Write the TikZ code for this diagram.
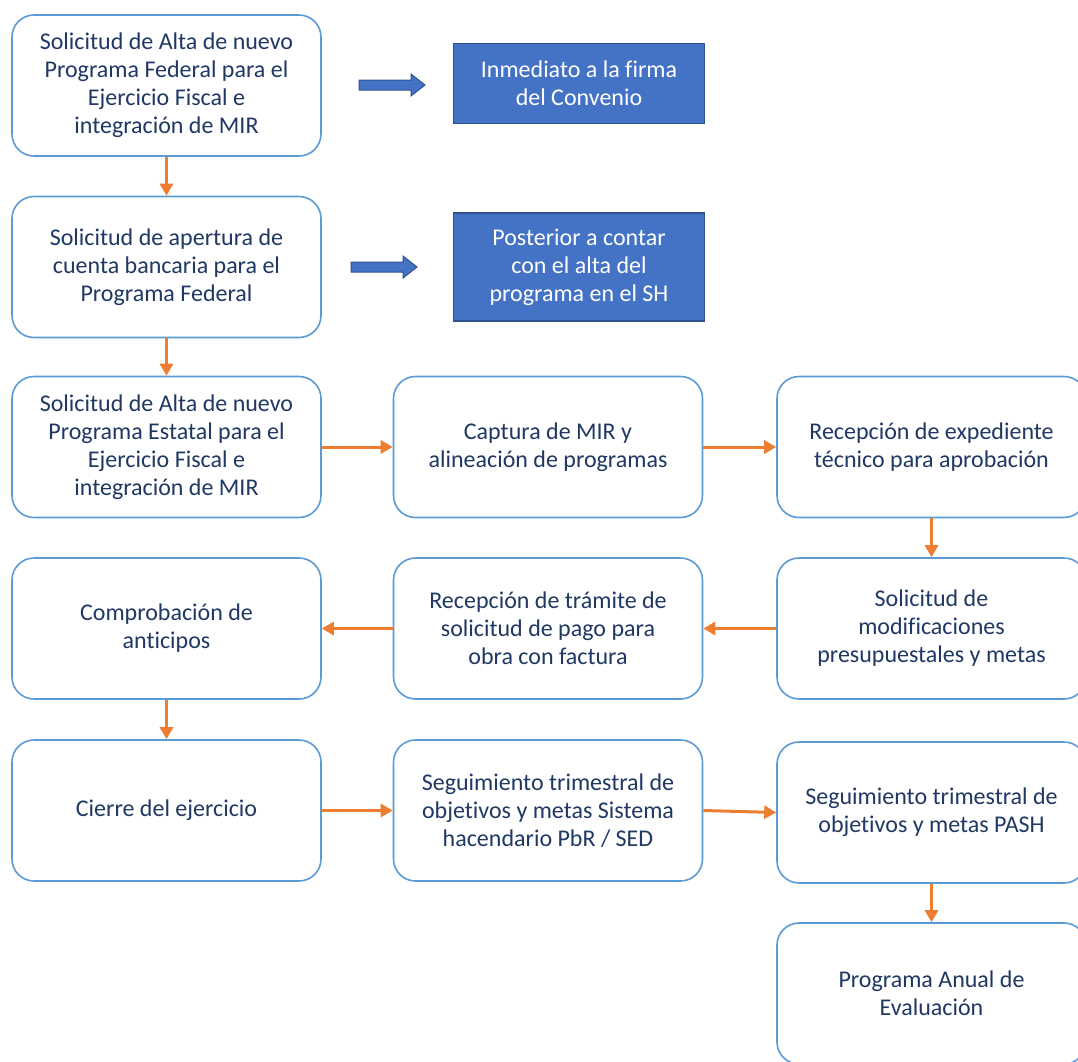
\documentclass[tikz,border=0pt]{standalone}
\usepackage{fontspec}
\setmainfont{Carlito}[RawFeature={-liga;-calt}]
\usetikzlibrary{arrows.meta}
\definecolor{boxblue}{HTML}{5B9BD5}
\definecolor{orng}{HTML}{ED7D31}
\definecolor{fillblue}{HTML}{4472C4}
\definecolor{edgeblue}{HTML}{2F528F}
\definecolor{navy}{HTML}{1F3864}
\tikzset{
  box/.style={draw=boxblue, line width=1.6pt, rounded corners=22pt, fill=white,
    minimum width=309pt, minimum height=141pt, align=center, text=navy,
    font=\fontsize{24}{28}\selectfont, inner sep=0pt},
  tagbox/.style={draw=edgeblue, line width=1.2pt, fill=fillblue, align=center, text=white,
    font=\fontsize{24}{28}\selectfont, inner sep=0pt, minimum width=251pt},
  flow/.style={draw=orng, line width=3pt, -{Triangle[length=12pt,width=13pt]}},
  blockarrow/.style={draw=edgeblue, line width=1pt, fill=fillblue}
}
\begin{document}
\begin{tikzpicture}[x=1pt,y=-1pt]
\useasboundingbox (0,0) rectangle (1078,1061);
% column 1
\node[box] (a1) at (166.5,85.5) {Solicitud de Alta de nuevo\\Programa Federal para el\\Ejercicio Fiscal e\\integración de MIR};
\node[box] (a2) at (166.5,267) {Solicitud de apertura de\\cuenta bancaria para el\\Programa Federal};
\node[box] (a3) at (166.5,447) {Solicitud de Alta de nuevo\\Programa Estatal para el\\Ejercicio Fiscal e\\integración de MIR};
\node[box] (a4) at (166.5,628.5) {Comprobación de\\anticipos};
\node[box] (a5) at (166.5,810.5) {Cierre del ejercicio};
% column 2
\node[box] (b3) at (548,447) {Captura de MIR y\\alineación de programas};
\node[box] (b4) at (548,628.5) {Recepción de trámite de\\solicitud de pago para\\obra con factura};
\node[box] (b5) at (548,810.5) {Seguimiento trimestral de\\objetivos y metas Sistema\\hacendario PbR / SED};
% column 3
\node[box] (c3) at (931.5,447) {Recepción de expediente\\técnico para aprobación};
\node[box] (c4) at (931.5,628.5) {Solicitud de\\modificaciones\\presupuestales y metas};
\node[box] (c5) at (931.5,812.5) {Seguimiento trimestral de\\objetivos y metas PASH};
\node[box] (c6) at (931.5,993.5) {Programa Anual de\\Evaluación};
% tag boxes
\node[tagbox, minimum height=80pt] (t1) at (579,83.5) {Inmediato a la firma\\del Convenio};
\node[tagbox, minimum height=108pt] (t2) at (579,267) {Posterior a contar\\con el alta del\\programa en el SH};
% block arrows
\draw[blockarrow] (359,80) -- (411,80) -- (411,74) -- (425,85) -- (411,96) -- (411,90) -- (359,90) -- cycle;
\draw[blockarrow] (351,262) -- (403,262) -- (403,256) -- (417,267) -- (403,278) -- (403,272) -- (351,272) -- cycle;
% flow arrows
\draw[flow] (a1.south) -- (a2.north);
\draw[flow] (a2.south) -- (a3.north);
\draw[flow] (a3.east) -- (b3.west);
\draw[flow] (b3.east) -- (c3.west);
\draw[flow] (c3.south) -- (c4.north);
\draw[flow] (c4.west) -- (b4.east);
\draw[flow] (b4.west) -- (a4.east);
\draw[flow] (a4.south) -- (a5.north);
\draw[flow] (a5.east) -- (b5.west);
\draw[flow] (b5.east) -- (c5.west);
\draw[flow] (c5.south) -- (c6.north);
\end{tikzpicture}
\end{document}
